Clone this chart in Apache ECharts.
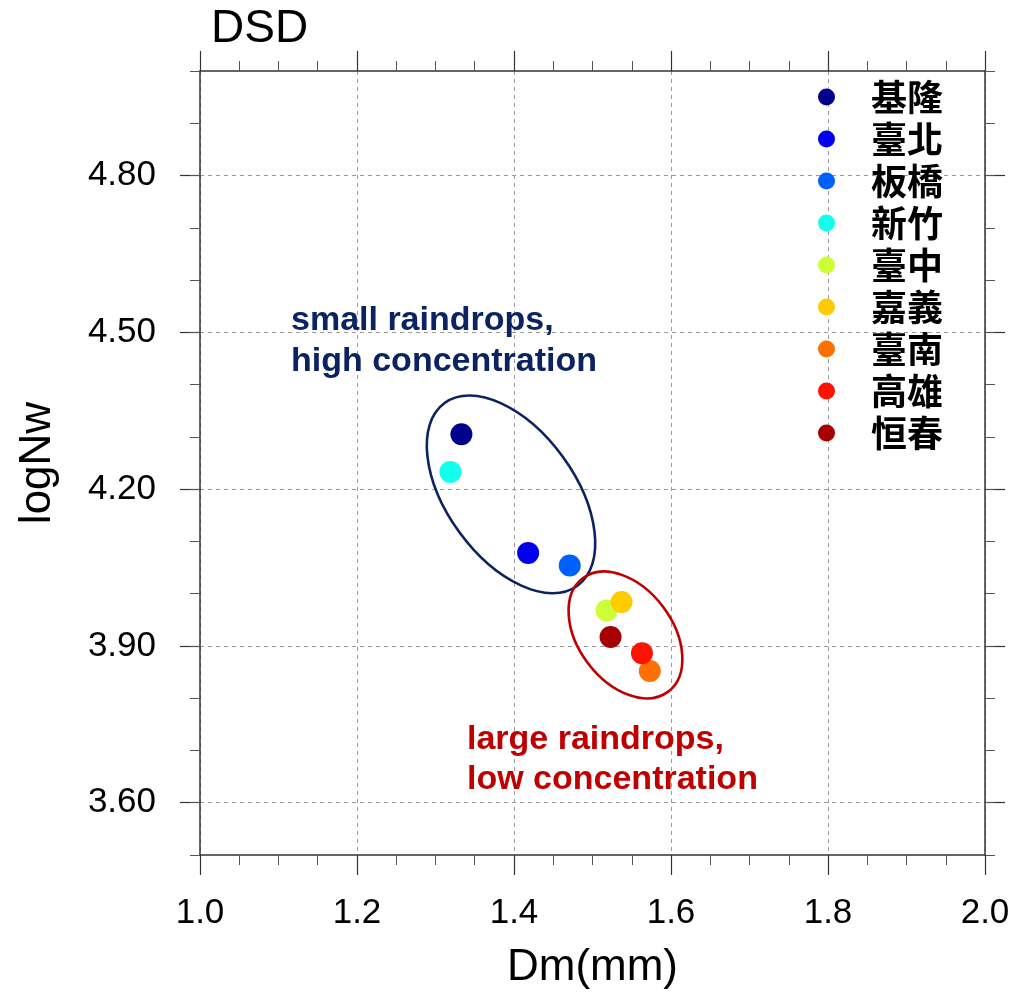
<!DOCTYPE html>
<html>
<head>
<meta charset="utf-8">
<script src="https://cdn.jsdelivr.net/npm/echarts@6/dist/echarts.min.js"></script>
<style>
  html, body { margin: 0; padding: 0; background: #fff; }
  #chart { width: 1013px; height: 998px; }
</style>
</head>
<body>
<div id="chart"></div>
<script>
// Mean drop diameter (Dm) and normalized intercept (logNw) per station
const stations = ['基隆', '臺北', '板橋', '新竹', '臺中', '嘉義', '臺南', '高雄', '恒春'];
const dmValues = [1.333, 1.418, 1.471, 1.319, 1.518, 1.537, 1.573, 1.563, 1.523];
const logNwValues = [4.305, 4.078, 4.054, 4.233, 3.968, 3.984, 3.852, 3.886, 3.917];

// Tick values
const xMajorTicks = [1.0, 1.2, 1.4, 1.6, 1.8, 2.0];
const yMajorTicks = [3.6, 3.9, 4.2, 4.5, 4.8];

// Station colours (jet-like ramp, north to south)
const stationColors = ['#00008c', '#0000ee', '#0060ff', '#12ffec', '#ccff33', '#ffcc00', '#ff7000', '#ff1200', '#a80000'];

// Group outlines and their captions
const groups = [
  { lines: ['small raindrops,', 'high concentration'], color: '#0b2461',
    center: [1.3962, 4.190], rx: 64, ry: 113, angle: 36, textPos: [291, 300], lineHeight: 41 },
  { lines: ['large raindrops,', 'low concentration'], color: '#c00000',
    center: [1.5420, 3.921], rx: 47, ry: 71, angle: 37, textPos: [467, 720], lineHeight: 40 }
];

const FONT = '"Liberation Sans", Arial, Helvetica, sans-serif';
const AXIS_COLOR = '#333';
const GRID_LINE = { show: true, lineStyle: { color: '#9a9a9a', width: 1, type: [4, 4] } };

function frameAxis(extra) {
  return Object.assign({
    type: 'value',
    axisLine: { show: true, onZero: false, lineStyle: { color: AXIS_COLOR, width: 1.5 } },
    axisTick: { show: true, inside: false, length: 20, lineStyle: { color: AXIS_COLOR, width: 1.2 } },
    axisLabel: { show: false },
    splitLine: { show: false },
    silent: true
  }, extra);
}

const chart = echarts.init(document.getElementById('chart'), null, { renderer: 'canvas' });

const option = {
  animation: false,
  backgroundColor: '#fff',
  title: {
    text: 'DSD', left: 211, top: 6, padding: 0,
    textStyle: { fontSize: 46, fontWeight: 'normal', fontFamily: FONT, color: '#000' }
  },
  grid: { left: 200, right: 28, top: 71, bottom: 143, containLabel: false, outerBoundsMode: 'none' },
  legend: {
    orient: 'vertical', left: 818, top: 79, padding: 0, itemGap: 6,
    itemWidth: 17, itemHeight: 17, icon: 'circle',
    textStyle: { fontFamily: '"Noto Sans CJK TC", sans-serif', fontWeight: 'bold', fontSize: 36, lineHeight: 36,
      color: '#000', padding: [0, 0, 0, 31] },
    data: stations,
    selectedMode: false
  },
  xAxis: [
    frameAxis({
      position: 'bottom', min: xMajorTicks[0], max: xMajorTicks[xMajorTicks.length - 1], interval: 0.2,
      minorTick: { show: true, splitNumber: 4, length: 10, lineStyle: { color: '#555', width: 1 } },
      axisLabel: { show: true, margin: 41, fontSize: 35, fontFamily: FONT, color: '#000',
        formatter: v => v.toFixed(1) },
      splitLine: GRID_LINE,
      name: 'Dm(mm)', nameLocation: 'middle', nameGap: 91,
      nameTextStyle: { fontSize: 44, fontFamily: FONT, color: '#000' }
    }),
    frameAxis({
      position: 'top', min: xMajorTicks[0], max: xMajorTicks[xMajorTicks.length - 1], interval: 0.2,
      minorTick: { show: true, splitNumber: 4, length: 10, lineStyle: { color: '#555', width: 1 } }
    })
  ],
  yAxis: [
    frameAxis({
      position: 'left', min: 3.5, max: 5.0,
      axisTick: { show: true, length: 20, customValues: yMajorTicks, lineStyle: { color: AXIS_COLOR, width: 1.2 } },
      axisLabel: { show: true, customValues: yMajorTicks, margin: 44, fontSize: 35, fontFamily: FONT, color: '#000',
        formatter: v => v.toFixed(2) },
      splitLine: GRID_LINE,
      name: 'logNw', nameLocation: 'middle', nameGap: 140,
      nameTextStyle: { fontSize: 44, fontFamily: FONT, color: '#000' }
    }),
    frameAxis({
      position: 'left', min: 3.5, max: 5.0, interval: 0.1,
      axisLine: { show: false },
      axisTick: { show: true, length: 10, lineStyle: { color: '#555', width: 1 } }
    }),
    frameAxis({
      position: 'right', min: 3.5, max: 5.0,
      axisTick: { show: true, length: 20, customValues: yMajorTicks, lineStyle: { color: AXIS_COLOR, width: 1.2 } }
    }),
    frameAxis({
      position: 'right', min: 3.5, max: 5.0, interval: 0.1,
      axisLine: { show: false },
      axisTick: { show: true, length: 10, lineStyle: { color: '#555', width: 1 } }
    })
  ],
  series: stations.map((name, i) => ({
    name: name,
    type: 'scatter',
    xAxisIndex: 0,
    yAxisIndex: 0,
    symbol: 'circle',
    symbolSize: 22,
    itemStyle: { color: stationColors[i], opacity: 1 },
    emphasis: { disabled: true },
    data: [[dmValues[i], logNwValues[i]]],
    z: 3
  }))
};

chart.setOption(option);

// Group outlines anchored at data-space centres, captions as text blocks
const graphics = [];
groups.forEach(g => {
  const c = chart.convertToPixel({ xAxisIndex: 0, yAxisIndex: 0 }, g.center);
  graphics.push({
    type: 'ellipse',
    x: c[0], y: c[1],
    rotation: g.angle * Math.PI / 180,
    shape: { cx: 0, cy: 0, rx: g.rx, ry: g.ry },
    style: { fill: null, stroke: g.color, lineWidth: 2.6 },
    silent: true,
    z: 2
  });
  graphics.push({
    type: 'text',
    x: g.textPos[0], y: g.textPos[1],
    style: {
      text: g.lines.join('\n'),
      fill: g.color,
      fontSize: 34,
      fontWeight: 'bold',
      fontFamily: FONT,
      lineHeight: g.lineHeight,
      verticalAlign: 'top',
      align: 'left'
    },
    silent: true,
    z: 4
  });
});
chart.setOption({ graphic: graphics });
</script>
</body>
</html>
